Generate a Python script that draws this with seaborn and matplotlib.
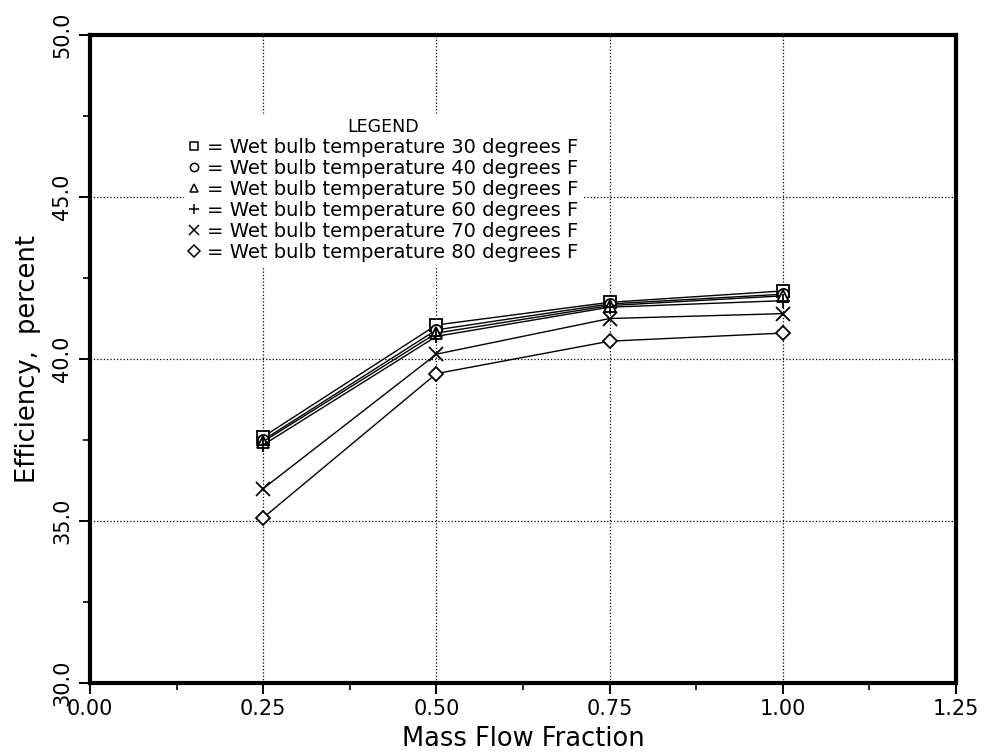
#!/usr/bin/env python3
"""Efficiency vs. mass flow fraction for several wet bulb temperatures."""

import matplotlib.lines as mlines
import matplotlib.pyplot as plt
import pandas as pd
import seaborn as sns
from matplotlib.ticker import MultipleLocator

MASS_FLOW = [0.25, 0.50, 0.75, 1.00]

WB_30 = [37.60, 41.05, 41.75, 42.10]
WB_40 = [37.50, 40.90, 41.70, 42.00]
WB_50 = [37.45, 40.80, 41.65, 41.95]
WB_60 = [37.35, 40.70, 41.60, 41.80]
WB_70 = [36.00, 40.15, 41.25, 41.40]
WB_80 = [35.10, 39.55, 40.55, 40.80]

TEMPS = [30, 40, 50, 60, 70, 80]
SERIES = [WB_30, WB_40, WB_50, WB_60, WB_70, WB_80]
# square, circle, triangle, plus, cross, diamond (open markers like the print)
MARKERS = ["s", "o", "^", "+", "x", "D"]
SIZES = [8, 8, 8, 10, 10, 7]

LABEL_FMT = "= Wet bulb temperature {} degrees F"


def main() -> None:
    sns.set_theme(style="ticks")
    plt.rcParams["font.family"] = ["DejaVu Sans"]
    plt.rcParams["text.color"] = "black"

    fig = plt.figure(figsize=(9.85, 7.55), dpi=100)
    ax = fig.add_axes([0.0914, 0.0954, 0.8792, 0.8582])

    # seaborn refuses mixed filled / line-art markers in one style map,
    # so draw each wet bulb curve on its own.
    for temp, vals, mk, ms in zip(TEMPS, SERIES, MARKERS, SIZES):
        df = pd.DataFrame({"flow": MASS_FLOW, "eff": vals})
        sns.lineplot(
            data=df,
            x="flow",
            y="eff",
            color="black",
            marker=mk,
            markersize=ms,
            markerfacecolor="white",
            markeredgecolor="black",
            markeredgewidth=1.3,
            linewidth=1.0,
            ax=ax,
            label=LABEL_FMT.format(temp),
            legend=False,
        )

    ax.set_xlim(0.0, 1.25)
    ax.set_ylim(30.0, 50.0)
    ax.xaxis.set_major_locator(MultipleLocator(0.25))
    ax.xaxis.set_minor_locator(MultipleLocator(0.125))
    ax.yaxis.set_major_locator(MultipleLocator(5.0))
    ax.yaxis.set_minor_locator(MultipleLocator(2.5))
    ax.xaxis.set_major_formatter(lambda v, _: f"{v:.2f}")
    ax.yaxis.set_major_formatter(lambda v, _: f"{v:.1f}")

    ax.grid(True, which="major", linestyle=":", color="black", linewidth=0.9)
    ax.set_axisbelow(True)

    for side in ax.spines.values():
        side.set_linewidth(3.0)
        side.set_color("black")

    ax.tick_params(which="major", direction="out", length=8, width=1.4,
                   labelsize=15, colors="black")
    ax.tick_params(which="minor", direction="out", length=5, width=1.2,
                   colors="black")
    ax.tick_params(axis="y", which="major", pad=5)
    for lab in ax.get_yticklabels():
        lab.set_rotation(90)
        lab.set_va("center")

    ax.set_xlabel("Mass Flow Fraction", fontsize=18.5, color="black", labelpad=5)
    ax.set_ylabel("Efficiency,  percent", fontsize=18.5, color="black", labelpad=8)

    handles = [
        mlines.Line2D([], [], color="black", linestyle="none", marker=m,
                      markersize=6 if m not in "+x" else 7,
                      markerfacecolor="white",
                      markeredgewidth=1.1, label=LABEL_FMT.format(t))
        for m, t in zip(MARKERS, TEMPS)
    ]
    leg = ax.legend(
        handles=handles,
        title="LEGEND",
        loc="upper left",
        bbox_to_anchor=(0.097, 0.893),
        frameon=True,
        fontsize=14,
        title_fontsize=12.5,
        labelcolor="black",
        handlelength=0.7,
        handletextpad=0.3,
        labelspacing=0.10,
        borderpad=0.2,
        facecolor="white",
        edgecolor="white",
        framealpha=1.0,
        fancybox=False,
    )
    leg.get_title().set_color("black")
    leg.set_zorder(5)

    fig.savefig("out.png", dpi=100)
    plt.close(fig)


if __name__ == "__main__":
    main()
